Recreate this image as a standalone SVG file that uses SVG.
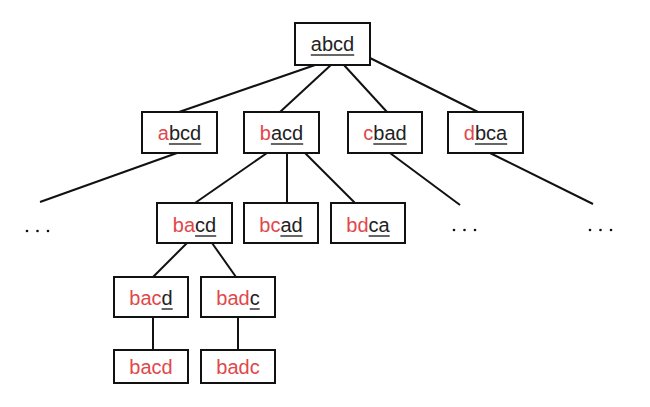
<svg xmlns="http://www.w3.org/2000/svg" width="650" height="407" viewBox="0 0 650 407">
<style>
.box{fill:#fff;stroke:#111;stroke-width:2}
.t{font-family:"Liberation Sans",Arial,sans-serif;font-size:20px;fill:#222}
.r{fill:#e2474b}
.u{stroke:#333;stroke-width:1.5}
.e{stroke:#111;stroke-width:2;fill:none}
.dot{fill:#111}
</style>
<rect width="650" height="407" fill="#fff"/>
<g id="connectors">
<line class="e" x1="318" y1="64" x2="179" y2="112"/>
<line class="e" x1="332" y1="64" x2="280" y2="112"/>
<line class="e" x1="343" y1="64" x2="387" y2="112"/>
<line class="e" x1="370" y1="58" x2="478" y2="112"/>
<line class="e" x1="177" y1="153" x2="40" y2="202"/>
<line class="e" x1="390" y1="153" x2="460" y2="205"/>
<line class="e" x1="490" y1="153" x2="593" y2="204"/>
<line class="e" x1="267" y1="153" x2="195" y2="203"/>
<line class="e" x1="287" y1="153" x2="287" y2="203"/>
<line class="e" x1="305" y1="153" x2="355" y2="203"/>
<line class="e" x1="187" y1="243" x2="153" y2="277"/>
<line class="e" x1="212" y1="243" x2="236" y2="277"/>
<line class="e" x1="153" y1="317" x2="153" y2="350"/>
<line class="e" x1="238" y1="317" x2="238" y2="350"/>
</g>
<g id="root">
<rect class="box" x="295" y="23" width="75" height="42"/>
<text class="t" x="332.5" y="51" text-anchor="middle">abcd</text>
<line class="u" x1="310.8" y1="55" x2="354.2" y2="55"/>
</g>
<g id="n1-abcd">
<rect class="box" x="142" y="112" width="75" height="41"/>
<text class="t" x="179.5" y="140" text-anchor="middle"><tspan class="r">a</tspan>bcd</text>
<line class="u" x1="168.9" y1="144" x2="201.2" y2="144"/>
</g>
<g id="n1-bacd">
<rect class="box" x="244" y="112" width="75" height="41"/>
<text class="t" x="281.5" y="140" text-anchor="middle"><tspan class="r">b</tspan>acd</text>
<line class="u" x1="270.9" y1="144" x2="303.2" y2="144"/>
</g>
<g id="n1-cbad">
<rect class="box" x="348" y="112" width="74" height="41"/>
<text class="t" x="385" y="140" text-anchor="middle"><tspan class="r">c</tspan>bad</text>
<line class="u" x1="373.3" y1="144" x2="406.7" y2="144"/>
</g>
<g id="n1-dbca">
<rect class="box" x="448" y="112" width="75" height="41"/>
<text class="t" x="485.5" y="140" text-anchor="middle"><tspan class="r">d</tspan>bca</text>
<line class="u" x1="474.9" y1="144" x2="507.2" y2="144"/>
</g>
<g id="n2-bacd">
<rect class="box" x="157" y="203" width="75" height="40"/>
<text class="t" x="194.5" y="232" text-anchor="middle"><tspan class="r">ba</tspan>cd</text>
<line class="u" x1="195.1" y1="236" x2="216.2" y2="236"/>
</g>
<g id="n2-bcad">
<rect class="box" x="244" y="203" width="74" height="40"/>
<text class="t" x="281" y="232" text-anchor="middle"><tspan class="r">bc</tspan>ad</text>
<line class="u" x1="280.4" y1="236" x2="302.7" y2="236"/>
</g>
<g id="n2-bdca">
<rect class="box" x="331" y="203" width="74" height="40"/>
<text class="t" x="368" y="232" text-anchor="middle"><tspan class="r">bd</tspan>ca</text>
<line class="u" x1="368.6" y1="236" x2="389.7" y2="236"/>
</g>
<g id="n3-bacd">
<rect class="box" x="114" y="277" width="74" height="40"/>
<text class="t" x="151" y="305" text-anchor="middle"><tspan class="r">bac</tspan>d</text>
<line class="u" x1="161.6" y1="309" x2="172.7" y2="309"/>
</g>
<g id="n3-badc">
<rect class="box" x="201" y="277" width="74" height="40"/>
<text class="t" x="238" y="305" text-anchor="middle"><tspan class="r">bad</tspan>c</text>
<line class="u" x1="249.7" y1="309" x2="259.7" y2="309"/>
</g>
<g id="n4-bacd">
<rect class="box" x="114" y="350" width="74" height="33"/>
<text class="t r" x="151" y="374" text-anchor="middle">bacd</text>
</g>
<g id="n4-badc">
<rect class="box" x="201" y="350" width="74" height="33"/>
<text class="t r" x="238" y="374" text-anchor="middle">badc</text>
</g>
<g id="ellipsis-left">
<circle class="dot" cx="27" cy="231" r="1.3"/><circle class="dot" cx="37.5" cy="231" r="1.3"/><circle class="dot" cx="48" cy="231" r="1.3"/>
</g>
<g id="ellipsis-mid">
<circle class="dot" cx="454" cy="230" r="1.3"/><circle class="dot" cx="464.5" cy="230" r="1.3"/><circle class="dot" cx="475" cy="230" r="1.3"/>
</g>
<g id="ellipsis-right">
<circle class="dot" cx="590" cy="230" r="1.3"/><circle class="dot" cx="600.5" cy="230" r="1.3"/><circle class="dot" cx="611" cy="230" r="1.3"/>
</g>
</svg>
